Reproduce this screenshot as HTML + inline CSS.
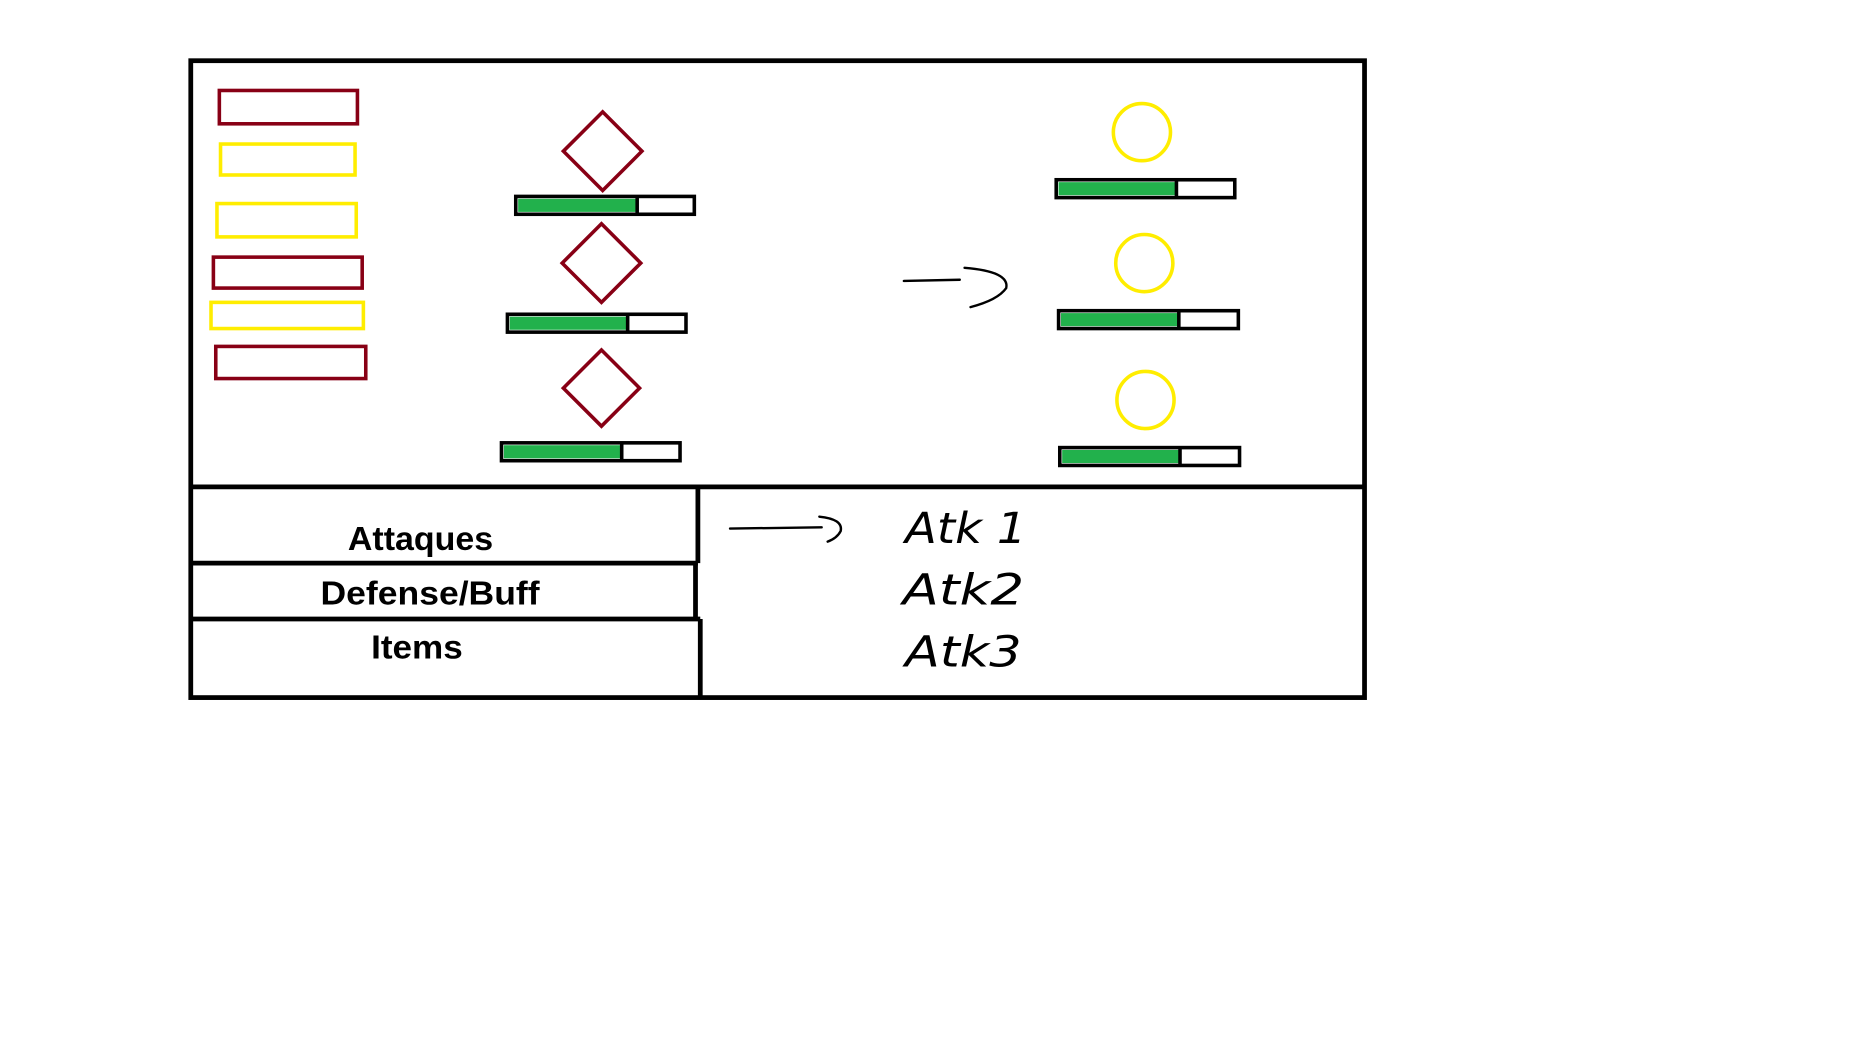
<!DOCTYPE html>
<html><head><meta charset="utf-8"><style>
html,body{margin:0;padding:0;background:#fff;}
svg{display:block;}
</style></head><body>
<svg width="1866" height="1044" viewBox="0 0 1567 877" xmlns="http://www.w3.org/2000/svg">
<rect width="1567" height="877" fill="#fff"/>
<g fill="none" stroke-width="3">
<rect x="184" y="76" width="116" height="28" stroke="#880015"/>
<rect x="185" y="121" width="113" height="26" stroke="#ffed00"/>
<rect x="182" y="171" width="117" height="28" stroke="#ffed00"/>
<rect x="179" y="216" width="125" height="26" stroke="#880015"/>
<rect x="177" y="254" width="128" height="22" stroke="#ffed00"/>
<rect x="181" y="291" width="126" height="27" stroke="#880015"/>
<polygon points="506,94 539,127 506,160 473,127" stroke="#880015"/>
<polygon points="505,188 538,221 505,254 472,221" stroke="#880015"/>
<polygon points="505,294 537,326 505,358 473,326" stroke="#880015"/>
<circle cx="959" cy="111" r="24" stroke="#ffed00"/>
<circle cx="961" cy="221" r="24" stroke="#ffed00"/>
<circle cx="962" cy="336" r="24" stroke="#ffed00"/>
</g>
<g stroke="#000" stroke-width="3">
<rect x="433" y="165" width="150" height="15" fill="#fff"/><rect x="435" y="167" width="100" height="11" fill="#22b14c" stroke="none"/><line x1="535" y1="166" x2="535" y2="179"/>
<rect x="426" y="264" width="150" height="15" fill="#fff"/><rect x="428" y="266" width="99" height="11" fill="#22b14c" stroke="none"/><line x1="527" y1="265" x2="527" y2="278"/>
<rect x="421" y="372" width="150" height="15" fill="#fff"/><rect x="423" y="374" width="99" height="11" fill="#22b14c" stroke="none"/><line x1="522" y1="373" x2="522" y2="386"/>
<rect x="887" y="151" width="150" height="15" fill="#fff"/><rect x="889" y="153" width="99" height="11" fill="#22b14c" stroke="none"/><line x1="988" y1="152" x2="988" y2="165"/>
<rect x="889" y="261" width="151" height="15" fill="#fff"/><rect x="891" y="263" width="99" height="11" fill="#22b14c" stroke="none"/><line x1="990" y1="262" x2="990" y2="275"/>
<rect x="890" y="376" width="151" height="15" fill="#fff"/><rect x="892" y="378" width="99" height="11" fill="#22b14c" stroke="none"/><line x1="991" y1="377" x2="991" y2="390"/>
</g>
<g fill="none" stroke="#000" stroke-width="4">
<rect x="160" y="51" width="986" height="535"/>
<line x1="160" y1="409" x2="1146" y2="409"/>
<line x1="160" y1="473" x2="586" y2="473"/>
<line x1="160" y1="520" x2="588" y2="520"/>
<line x1="586" y1="409" x2="586" y2="473"/>
<line x1="584" y1="473" x2="584" y2="520"/>
<line x1="588" y1="520" x2="588" y2="586"/>
</g>
<g fill="none" stroke="#000" stroke-width="2" stroke-linecap="round">
<path d="M759,236 L806,235"/>
<path d="M810,225 Q848,228 845,242 Q838,252 815,258"/>
<path d="M613,444 L690,443"/>
<path d="M688,434 Q708,436 706,446 Q703,452 695,455"/>
</g>
<g font-family="Liberation Sans, sans-serif" font-weight="bold" font-size="28" text-anchor="middle" fill="#000">
<text x="353" y="462" textLength="122" lengthAdjust="spacingAndGlyphs">Attaques</text>
<text x="361" y="508" textLength="184" lengthAdjust="spacingAndGlyphs">Defense/Buff</text>
<text x="350" y="553" textLength="77" lengthAdjust="spacingAndGlyphs">Items</text>
</g>
<g font-family="DejaVu Sans, sans-serif" font-style="italic" font-weight="200" font-size="36" fill="#000">
<text x="760" y="456" textLength="102" lengthAdjust="spacingAndGlyphs">Atk 1</text>
<text x="758" y="508" textLength="102" lengthAdjust="spacingAndGlyphs">Atk2</text>
<text x="760" y="560" textLength="98" lengthAdjust="spacingAndGlyphs">Atk3</text>
</g>
</svg>
</body></html>
